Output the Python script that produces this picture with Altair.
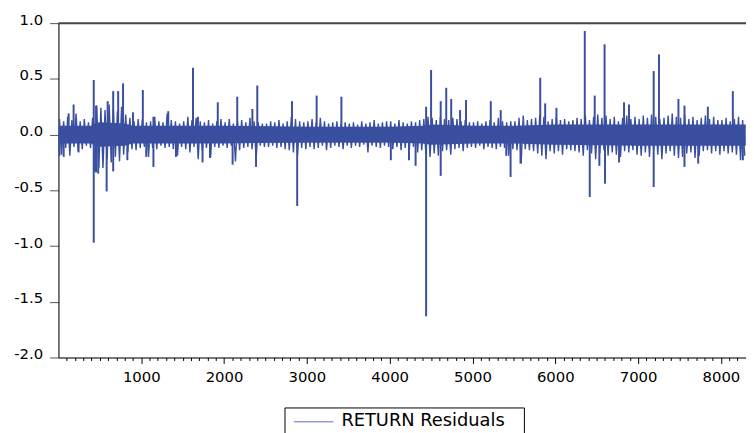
import altair as alt
import pandas as pd

# ---------------- data ----------------
series_name = "RETURN Residuals"

# envelope of the dense residual band, one pair per 50 observations (bin centres 25, 75, ...)
band_hi = [
    0.14, 0.12, 0.16, 0.13, 0.19, 0.12, 0.14, 0.11, 0.15, 0.26,
    0.24, 0.22, 0.27, 0.23, 0.21, 0.25, 0.18, 0.15, 0.12, 0.14,
    0.13, 0.11, 0.12, 0.16, 0.12, 0.11, 0.19, 0.13, 0.12, 0.10,
    0.12, 0.16, 0.13, 0.15, 0.12, 0.11, 0.13, 0.10, 0.12, 0.14,
    0.11, 0.14, 0.10, 0.12, 0.13, 0.11, 0.15, 0.12, 0.11, 0.10,
    0.10, 0.12, 0.11, 0.13, 0.10, 0.12, 0.16, 0.14, 0.12, 0.11,
    0.12, 0.14, 0.11, 0.15, 0.12, 0.10, 0.11, 0.12, 0.10, 0.11,
    0.10, 0.11, 0.09, 0.12, 0.10, 0.11, 0.13, 0.10, 0.11, 0.12,
    0.12, 0.10, 0.13, 0.11, 0.10, 0.12, 0.11, 0.13, 0.14, 0.16,
    0.15, 0.13, 0.16, 0.14, 0.13, 0.15, 0.14, 0.12, 0.13, 0.11,
    0.11, 0.12, 0.10, 0.12, 0.13, 0.11, 0.15, 0.12, 0.11, 0.12,
    0.12, 0.15, 0.17, 0.13, 0.14, 0.15, 0.18, 0.16, 0.12, 0.14,
    0.16, 0.13, 0.14, 0.12, 0.13, 0.15, 0.14, 0.17, 0.13, 0.16,
    0.18, 0.15, 0.17, 0.14, 0.16, 0.12, 0.15, 0.17, 0.14, 0.16,
    0.14, 0.17, 0.15, 0.18, 0.16, 0.14, 0.15, 0.17, 0.19, 0.16,
    0.15, 0.18, 0.14, 0.16, 0.13, 0.15, 0.17, 0.14, 0.16, 0.13,
    0.13, 0.15, 0.12, 0.14, 0.16, 0.13,
]
band_lo = [
    -0.18, -0.12, -0.19, -0.11, -0.15, -0.13, -0.10, -0.12, -0.33, -0.30,
    -0.30, -0.22, -0.25, -0.20, -0.24, -0.18, -0.16, -0.13, -0.14, -0.12,
    -0.11, -0.20, -0.12, -0.13, -0.10, -0.12, -0.11, -0.13, -0.19, -0.11,
    -0.13, -0.16, -0.11, -0.22, -0.14, -0.12, -0.20, -0.11, -0.12, -0.10,
    -0.12, -0.10, -0.24, -0.14, -0.12, -0.11, -0.13, -0.22, -0.10, -0.11,
    -0.11, -0.10, -0.12, -0.11, -0.13, -0.14, -0.16, -0.18, -0.12, -0.13,
    -0.11, -0.13, -0.12, -0.10, -0.14, -0.12, -0.10, -0.11, -0.13, -0.10,
    -0.12, -0.10, -0.11, -0.09, -0.16, -0.10, -0.11, -0.12, -0.10, -0.11,
    -0.13, -0.11, -0.14, -0.12, -0.13, -0.11, -0.16, -0.14, -0.18, -0.20,
    -0.17, -0.19, -0.15, -0.14, -0.18, -0.13, -0.12, -0.15, -0.12, -0.11,
    -0.12, -0.10, -0.13, -0.11, -0.12, -0.13, -0.11, -0.12, -0.19, -0.13,
    -0.14, -0.26, -0.13, -0.14, -0.15, -0.17, -0.19, -0.22, -0.15, -0.17,
    -0.15, -0.18, -0.13, -0.14, -0.15, -0.16, -0.19, -0.14, -0.17, -0.22,
    -0.17, -0.14, -0.19, -0.16, -0.18, -0.20, -0.15, -0.16, -0.14, -0.18,
    -0.19, -0.16, -0.20, -0.14, -0.18, -0.22, -0.17, -0.15, -0.19, -0.21,
    -0.20, -0.17, -0.16, -0.21, -0.19, -0.15, -0.14, -0.17, -0.15, -0.18,
    -0.15, -0.17, -0.16, -0.18, -0.23, -0.19,
]
bin_width = 50

# solid core of the band
core_obs = [1, 400, 430, 500, 800, 900, 1500, 2000, 3000, 4000, 4400, 4500, 5000, 5500, 6000, 7000, 8000, 8300]
core_hi = [0.08, 0.08, 0.10, 0.11, 0.10, 0.08, 0.08, 0.08, 0.07, 0.07, 0.08, 0.09, 0.08, 0.08, 0.09, 0.09, 0.09, 0.09]
core_lo = [-0.08, -0.08, -0.10, -0.11, -0.10, -0.08, -0.08, -0.08, -0.07, -0.07, -0.08, -0.09, -0.08, -0.08, -0.09, -0.10, -0.10, -0.10]

# isolated large residuals
spike_obs = [
    123, 183, 426, 454, 594, 661, 721, 780, 900, 1019, 1147, 1326, 1625, 1685,
    1924, 2159, 2342, 2401, 2820, 3118, 3417, 4440, 4500, 4616, 4683, 4743,
    4850, 4922, 5221, 5341, 5818, 5878, 6014, 6356, 6476, 6595, 6830, 6890,
    7188, 7252, 7487, 7560, 7842, 8144,
    12, 63, 243, 426, 454, 480, 582, 661, 832, 1060, 1147, 1419, 1740, 1830,
    2103, 2386, 2883, 4014, 4233, 4313, 4440, 4616, 5408, 5460, 5580, 6416,
    6532, 6600, 6770, 7188, 7560, 7726, 8265,
]
spike_val = [
    0.19, 0.27, 0.49, 0.26, 0.30, 0.39, 0.39, 0.46, 0.20, 0.40, 0.16, 0.21, 0.60, 0.16,
    0.29, 0.34, 0.23, 0.44, 0.30, 0.35, 0.34, 0.25, 0.58, 0.30, 0.42, 0.32,
    0.22, 0.31, 0.30, 0.22, 0.51, 0.28, 0.24, 0.93, 0.35, 0.81, 0.29, 0.27,
    0.57, 0.72, 0.32, 0.26, 0.25, 0.39,
    -0.19, -0.20, -0.16, -0.97, -0.34, -0.35, -0.51, -0.33, -0.23, -0.20, -0.29, -0.20, -0.25, -0.21,
    -0.27, -0.29, -0.64, -0.23, -0.23, -0.28, -1.63, -0.37, -0.19, -0.38, -0.26, -0.56,
    -0.28, -0.44, -0.25, -0.47, -0.29, -0.26, -0.23,
]

ref_levels = [0.065, -0.07]
y_ticks = [-2.0, -1.5, -1.0, -0.5, 0.0, 0.5, 1.0]
x_ticks = list(range(100, 8301, 100))
x_max = 8303
y_min, y_max = -2.0, 1.0

# ---------------- chart ----------------
W, H = 695, 338
BLUE = "#3a4fa0"
FONT = "DejaVu Sans"

# zig-zag path through the band envelope: high in the first half of each bin, low in the second
zig_rows = []
for i, (h, l) in enumerate(zip(band_hi, band_lo)):
    start = bin_width * i
    zig_rows.append({"obs": start + bin_width * 0.25, "v": h})
    zig_rows.append({"obs": start + bin_width * 0.75, "v": l})
zig_df = pd.DataFrame(zig_rows)

core_df = pd.DataFrame({"obs": core_obs, "hi": core_hi, "lo": core_lo})
spike_df = pd.DataFrame({"obs": spike_obs, "val": spike_val, "base": [0.0] * len(spike_obs)})
ref_df = pd.DataFrame({"level": ref_levels})
top_df = pd.DataFrame({"level": [y_max]})
legend_df = pd.DataFrame({"name": [series_name]})

xscale = alt.Scale(domain=[0, x_max], nice=False, zero=False)
yscale = alt.Scale(domain=[y_min, y_max], nice=False, zero=False)

xaxis = alt.Axis(
    values=x_ticks, format="d",
    labelExpr="datum.value % 1000 === 0 ? datum.label : ''",
    tickSize={"condition": {"test": "datum.value % 1000 === 0", "value": 6}, "value": 3},
    labelPadding=6, labelFontSize=15, labelFont=FONT, labelColor="black",
    tickColor="black", domainColor="black", domainWidth=1,
    labelOverlap=False, labelFlush=False, grid=False, title=None,
)
yaxis = alt.Axis(
    values=y_ticks,
    labelExpr="(datum.value < 0 ? '-' : '') + format(abs(datum.value), '.1f')",
    tickSize=9, labelPadding=7, labelFontSize=15, labelFont=FONT, labelColor="black",
    labelBaseline="middle", labelOffset=-4,
    tickColor="#555555", domainColor="black", domainWidth=1,
    grid=False, title=None,
)


def X(f):
    return alt.X(f, type="quantitative", scale=xscale, axis=xaxis)


def Y(f):
    return alt.Y(f, type="quantitative", scale=yscale, axis=yaxis)


refs = alt.Chart(ref_df).mark_rule(color="#b8b8b8", strokeWidth=1).encode(y=Y("level"))

core = alt.Chart(core_df).mark_area(color=BLUE, opacity=1).encode(
    x=X("obs"), y=Y("lo"), y2="hi"
)

band = alt.Chart(zig_df).mark_line(color=BLUE, strokeWidth=1.4).encode(
    x=X("obs"), y=Y("v")
)

spikes = alt.Chart(spike_df).mark_rule(color=BLUE, strokeWidth=2).encode(
    x=X("obs"), y=Y("val"), y2="base"
)

top = alt.Chart(top_df).mark_rule(color="#444444", strokeWidth=2).encode(y=Y("level"))

leg_box = alt.Chart(legend_df).mark_rect(fill="white", stroke="black", strokeWidth=1).encode(
    x=alt.value(229), x2=alt.value(471), y=alt.value(389), y2=alt.value(440)
)
leg_line = alt.Chart(legend_df).mark_rule(color="#5a6cc0", strokeWidth=1).encode(
    x=alt.value(238), x2=alt.value(278), y=alt.value(403)
)
leg_text = alt.Chart(legend_df).mark_text(
    align="left", baseline="alphabetic", font=FONT, fontSize=18, color="black"
).encode(x=alt.value(286), y=alt.value(407), text="name:N")

chart = alt.layer(
    refs, core, band, spikes, top, leg_box, leg_line, leg_text
).properties(
    width=W, height=H,
    autosize=alt.AutoSizeParams(type="none"),
    padding={"left": 51, "top": 13, "right": 0, "bottom": 74},
).configure_view(stroke=None).configure(background="white")

chart.save("out.html", embed_options={"renderer": "svg", "actions": False})
